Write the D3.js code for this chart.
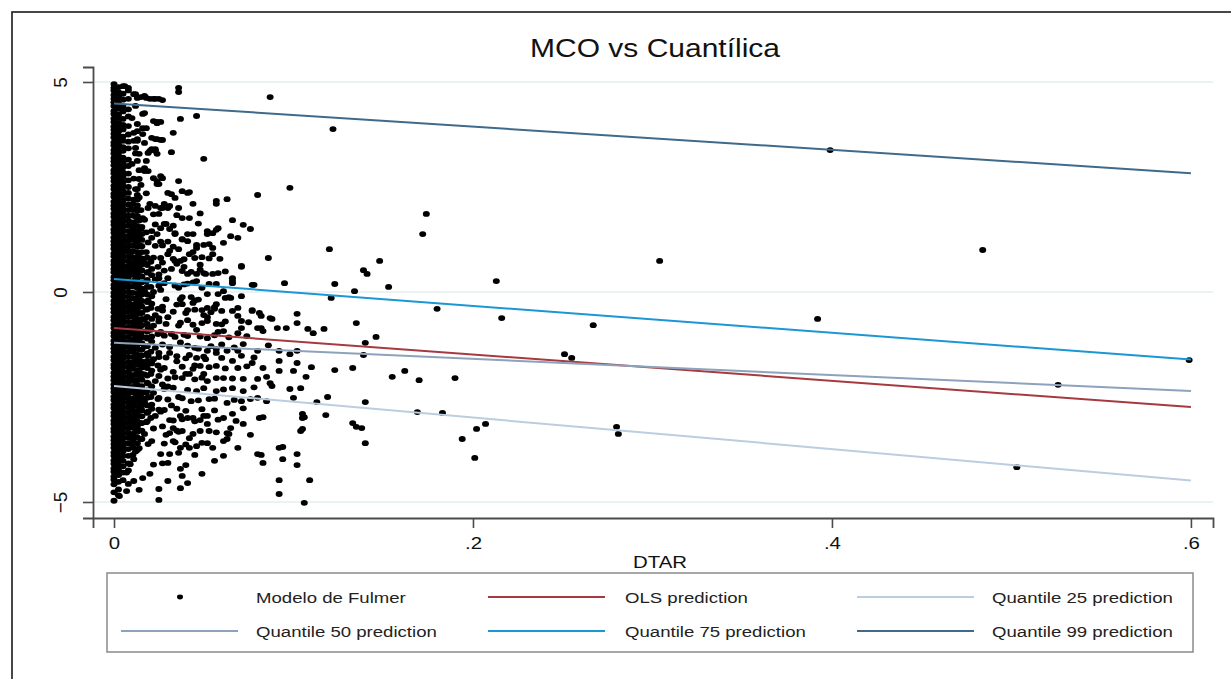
<!DOCTYPE html>
<html>
<head>
<meta charset="utf-8">
<script src="https://cdn.jsdelivr.net/npm/d3@7"></script>
<style>
  html, body { margin: 0; padding: 0; background: #fff; }
  svg { display: block; font-family: "Liberation Sans", Arial, sans-serif; }
</style>
</head>
<body>
<svg id="chart" width="1231" height="679"></svg>
<script>
// ---- values ----
const title = 'MCO vs Cuantílica'
const xLabel = 'DTAR'
const xTicks = [0, 0.2, 0.4, 0.6]
const yTicks = [-5, 0, 5]

// dense core at DTAR ~ 0 : one list of y values per x column
const coreX = [0, 0.0025, 0.005, 0.008, 0.0105, 0.013, 0.0155, 0.0185]
const coreY0 = [4.95, 4.86, 4.8, 4.69, 4.6, 4.52, 4.43, 4.31, 4.24, 4.13, 4.05, 3.94, 3.86, 3.77, 3.68, 3.56, 3.49, 3.38, 3.3, 3.19, 3.11, 3.02, 2.9, 2.83, 2.72, 2.64, 2.53, 2.45, 2.34, 2.27, 2.15, 2.06, 1.98, 1.87, 1.79, 1.68, 1.6, 1.49, 1.41, 1.3, 1.21, 1.12, 1.03, 0.92, 0.85, 0.74, 0.65, 0.55, 0.47, 0.36, 0.28, 0.17, 0.09, -0.02, -0.1, -0.21, -0.3, -0.39, -0.48, -0.59, -0.67, -0.78, -0.86, -0.97, -1.05, -1.16, -1.25, -1.34, -1.43, -1.54, -1.62, -1.73, -1.81, -1.92, -2.01, -2.1, -2.2, -2.29, -2.38, -2.49, -2.57, -2.68, -2.76, -2.87, -2.95, -3.06, -3.14, -3.25, -3.33, -3.44, -3.53, -3.62, -3.71, -3.82, -3.9, -4.01, -4.09, -4.2, -4.28, -4.39, -4.47, -4.58, -4.77, -4.97]
const coreY1 = [4.88, 4.76, 4.65, 4.55, 4.44, 4.36, 4.22, 4.14, 4.02, 3.91, 3.82, 3.71, 3.62, 3.51, 3.43, 3.32, 3.24, 3.13, 3.05, 2.94, 2.86, 2.76, 2.67, 2.58, 2.48, 2.39, 2.3, 2.2, 2.11, 2.02, 1.93, 1.83, 1.74, 1.64, 1.55, 1.45, 1.36, 1.26, 1.17, 1.07, 0.98, 0.89, 0.79, 0.7, 0.6, 0.51, 0.42, 0.32, 0.23, 0.13, 0.04, -0.06, -0.15, -0.25, -0.34, -0.43, -0.53, -0.62, -0.72, -0.81, -0.91, -1.0, -1.1, -1.19, -1.29, -1.38, -1.48, -1.57, -1.66, -1.76, -1.85, -1.95, -2.04, -2.14, -2.23, -2.33, -2.42, -2.52, -2.61, -2.71, -2.8, -2.9, -2.99, -3.09, -3.18, -3.28, -3.37, -3.47, -3.56, -3.66, -3.75, -3.85, -3.94, -4.04, -4.13, -4.25, -4.36, -4.52, -4.7, -4.84]
const coreY2 = [4.9, 4.72, 4.58, 4.41, 4.3, 4.12, 3.98, 3.87, 3.7, 3.6, 3.45, 3.36, 3.2, 3.08, 2.97, 2.85, 2.74, 2.62, 2.52, 2.4, 2.31, 2.19, 2.09, 1.98, 1.88, 1.77, 1.67, 1.56, 1.46, 1.35, 1.25, 1.14, 1.04, 0.94, 0.83, 0.73, 0.62, 0.52, 0.41, 0.31, 0.2, 0.1, -0.01, -0.11, -0.22, -0.32, -0.43, -0.53, -0.64, -0.74, -0.85, -0.95, -1.06, -1.16, -1.27, -1.37, -1.48, -1.58, -1.69, -1.79, -1.9, -2.0, -2.11, -2.21, -2.32, -2.42, -2.53, -2.63, -2.74, -2.84, -2.95, -3.05, -3.16, -3.26, -3.37, -3.47, -3.58, -3.68, -3.79, -3.9, -4.02, -4.15, -4.3, -4.48]
const coreY3 = [4.8, 4.6, 4.35, 4.18, 3.95, 3.75, 3.58, 3.42, 3.15, 3.0, 2.82, 2.66, 2.5, 2.36, 2.22, 2.08, 1.95, 1.82, 1.7, 1.58, 1.45, 1.33, 1.21, 1.09, 0.97, 0.85, 0.73, 0.61, 0.49, 0.37, 0.25, 0.13, 0.01, -0.11, -0.23, -0.35, -0.47, -0.59, -0.71, -0.83, -0.95, -1.07, -1.19, -1.31, -1.43, -1.55, -1.67, -1.79, -1.91, -2.03, -2.15, -2.27, -2.39, -2.51, -2.63, -2.75, -2.87, -2.99, -3.11, -3.23, -3.35, -3.47, -3.6, -3.74, -3.9, -4.08, -4.25]
const coreY4 = [2.1, 1.95, 1.82, 1.66, 1.53, 1.38, 1.25, 1.1, 0.97, 0.82, 0.69, 0.54, 0.41, 0.26, 0.13, -0.02, -0.15, -0.3, -0.43, -0.58, -0.71, -0.86, -0.99, -1.14, -1.27, -1.42, -1.55, -1.7, -1.83, -1.98, -2.11, -2.26, -2.39, -2.54, -2.67, -2.82, -2.95, -3.1, -3.23, -3.38, -3.52, -3.7, -3.88]
const coreY5 = [2.45, 2.31, 2.2, 2.06, 1.94, 1.81, 1.7, 1.57, 1.44, 1.33, 1.2, 1.08, 0.95, 0.84, 0.71, 0.58, 0.47, 0.34, 0.22, 0.1, -0.03, -0.14, -0.27, -0.39, -0.51, -0.64, -0.75, -0.88, -1.0, -1.12, -1.25, -1.36, -1.49, -1.61, -1.73, -1.86, -1.97, -2.1, -2.22, -2.34, -2.47, -2.58, -2.71, -2.83, -2.95, -3.08, -3.2, -3.33, -3.46, -3.6, -3.76]
const coreY6 = [1.55, 1.38, 1.24, 1.09, 0.95, 0.8, 0.66, 0.52, 0.37, 0.23, 0.08, -0.06, -0.21, -0.35, -0.5, -0.64, -0.79, -0.93, -1.08, -1.22, -1.37, -1.51, -1.66, -1.8, -1.95, -2.09, -2.24, -2.38, -2.53, -2.67, -2.82, -2.96, -3.12, -3.3, -3.5]
const coreY7 = [0.82, 0.64, 0.46, 0.29, 0.12, -0.06, -0.24, -0.41, -0.59, -0.76, -0.94, -1.11, -1.29, -1.46, -1.64, -1.81, -1.99, -2.16, -2.34, -2.52, -2.7, -2.88, -3.08]

// thinning band next to the core, [DTAR, y]
const bandPts = [
  [0.011,3.6],[0.012,3.3],[0.010,3.05],[0.011,2.7],[0.012,2.45],[0.011,2.2],[0.010,1.98],[0.012,1.8],[0.011,1.62],[0.010,1.45],[0.012,1.3],[0.011,1.12],[0.010,0.95],[0.012,0.8],[0.011,0.62],[0.010,0.47],[0.012,0.3],[0.011,0.14],[0.010,-0.02],[0.012,-0.17],[0.011,-0.32],[0.010,-0.47],[0.012,-0.62],[0.011,-0.77],[0.010,-0.92],[0.012,-1.07],[0.011,-1.22],[0.010,-1.37],[0.012,-1.52],[0.011,-1.67],[0.010,-1.82],[0.012,-1.97],[0.011,-2.12],[0.010,-2.27],[0.012,-2.42],[0.011,-2.57],[0.010,-2.72],[0.012,-2.87],[0.011,-3.02],[0.010,-3.17],[0.012,-3.32],[0.011,-3.47],[0.010,-3.62],[0.012,-3.8],[0.011,-3.98],
  [0.014,2.9],[0.015,2.55],[0.014,2.25],[0.015,1.95],[0.014,1.7],[0.015,1.5],[0.014,1.3],[0.015,1.1],[0.014,0.92],[0.015,0.74],[0.014,0.55],[0.015,0.38],[0.014,0.2],[0.015,0.03],[0.014,-0.15],[0.015,-0.32],[0.014,-0.5],[0.015,-0.67],[0.014,-0.85],[0.015,-1.02],[0.014,-1.2],[0.015,-1.37],[0.014,-1.55],[0.015,-1.72],[0.014,-1.9],[0.015,-2.07],[0.014,-2.25],[0.015,-2.42],[0.014,-2.6],[0.015,-2.77],[0.014,-2.95],[0.015,-3.12],[0.014,-3.3],[0.015,-3.5],[0.014,-3.72],
  [0.018,2.35],[0.019,2.0],[0.017,1.72],[0.018,1.42],[0.019,1.18],[0.018,0.95],[0.017,0.7],[0.019,0.48],[0.018,0.25],[0.017,0.02],[0.019,-0.2],[0.018,-0.42],[0.017,-0.65],[0.019,-0.86],[0.018,-1.08],[0.017,-1.3],[0.019,-1.52],[0.018,-1.74],[0.017,-1.96],[0.019,-2.18],[0.018,-2.4],[0.017,-2.62],[0.019,-2.85],[0.018,-3.1],[0.017,-3.38],[0.019,-3.62],
  [0.0205,0.72],[0.021,0.4],[0.0205,0.12],[0.021,-0.1],[0.0205,-0.38],[0.021,-0.64],[0.0205,-0.9],[0.021,-1.18],[0.0205,-1.42],[0.021,-1.7],[0.0205,-1.95],[0.021,-2.25],[0.0205,-2.5],[0.021,-2.78],[0.0205,-3.0],
  [0.022,1.85],[0.021,1.45],[0.023,1.1],[0.022,0.82],[0.021,0.55],[0.023,0.3],[0.022,0.0],[0.021,-0.28],[0.023,-0.55],[0.022,-0.8],[0.021,-1.06],[0.023,-1.33],[0.022,-1.6],[0.021,-1.87],[0.023,-2.12],[0.022,-2.4],[0.021,-2.68],[0.023,-2.95],[0.022,-3.25],[0.021,-3.55],
  [0.0245,0.6],[0.025,0.15],[0.0245,-0.4],[0.025,-0.7],[0.0245,-1.0],[0.025,-1.45],[0.0245,-1.75],[0.025,-2.0],[0.0245,-2.55],[0.025,-2.8],
  [0.026,1.2],[0.027,0.7],[0.025,0.42],[0.026,0.05],[0.027,-0.35],[0.025,-0.62],[0.026,-0.95],[0.027,-1.25],[0.025,-1.55],[0.026,-1.85],[0.027,-2.2],[0.025,-2.52],[0.026,-2.85],[0.027,-3.2],
  [0.030,-0.6],[0.032,-1.0],[0.031,-1.45],[0.033,-1.9],[0.030,-2.25],[0.032,-2.7],[0.031,-3.05],[0.029,-3.4],
  [0.035,-0.3],[0.036,-0.8],[0.037,-1.2],[0.035,-1.65],[0.038,-2.05],[0.036,-2.5],[0.037,-2.95],[0.035,-3.3],
  [0.040,-0.5],[0.041,-1.05],[0.042,-1.5],[0.040,-1.95],[0.043,-2.6],[0.041,-3.0],
  [0.045,-0.2],[0.046,-0.9],[0.047,-1.35],[0.045,-1.75],[0.048,-3.05],
  [0.050,-0.55],[0.052,-1.1],[0.051,-1.6],[0.053,-2.55],[0.050,-2.95],
  [0.056,-0.4],[0.058,-0.95],[0.057,-1.45],[0.060,-1.25],[0.062,-0.7],
  [0.030,1.2],[0.032,0.55],[0.034,0.15],[0.038,1.25],[0.039,0.6],[0.041,0.2],[0.044,0.95],[0.048,0.65],[0.049,0.1],[0.053,0.8],
  [0.029,-0.17],[0.043,-0.12],[0.047,-0.18],[0.062,-0.14],
  [0.027,-0.44],[0.033,-0.47],[0.045,-0.42],[0.054,-0.48],[0.066,-0.45],
  [0.029,-0.76],[0.037,-0.73],[0.044,-0.78],[0.049,-0.74],[0.060,-0.77],[0.075,-0.72],
  [0.028,-1.04],[0.034,-1.07],[0.039,-1.02],[0.048,-1.06],[0.056,-1.03],[0.064,-1.08],[0.074,-1.05],
  [0.031,-1.31],[0.041,-1.28],[0.045,-1.33],[0.054,-1.29],[0.067,-1.32],[0.086,-1.27],
  [0.029,-1.56],[0.035,-1.53],[0.040,-1.58],[0.050,-1.54],[0.060,-1.57],[0.071,-1.52],[0.078,-1.56],
  [0.028,-1.81],[0.038,-1.78],[0.044,-1.83],[0.053,-1.79],[0.062,-1.82],[0.074,-1.77],
  [0.030,-2.06],[0.034,-2.03],[0.045,-2.08],[0.049,-2.04],[0.066,-2.06],[0.085,-2.02],
  [0.028,-2.31],[0.033,-2.28],[0.041,-2.33],[0.050,-2.29],[0.061,-2.32],[0.078,-2.27],
  [0.030,-2.56],[0.038,-2.53],[0.047,-2.58],[0.056,-2.54],[0.067,-2.57],
  [0.028,-2.81],[0.035,-2.78],[0.040,-2.83],[0.049,-2.79],[0.056,-2.82],[0.072,-2.77],
  [0.033,-3.06],[0.038,-3.03],[0.045,-3.08],[0.058,-3.04],[0.068,-3.07],
  [0.031,-3.36],[0.036,-3.33],[0.044,-3.38],[0.057,-3.34],
  [0.028,-3.61],[0.034,-3.58],[0.040,-3.63],[0.049,-3.59],
  [0.026,-3.86],[0.036,-3.83],[0.045,-3.88],
  [0.022,-4.11],[0.027,-4.08],[0.040,-4.12],
  [0.028,0.21],[0.039,0.18],[0.044,0.23],[0.057,0.19],
  [0.028,0.51],[0.043,0.48],[0.048,0.53],[0.062,0.49],
  [0.026,0.81],[0.039,0.78],[0.049,0.83],[0.059,0.79],
  [0.027,1.11],[0.033,1.08],[0.050,1.12],
  [0.023,1.61],[0.033,1.58],[0.047,1.63],
  [0.025,1.86],[0.035,1.83],[0.048,1.87]
]

// scattered observations, [DTAR, y]
const scatterPts = [
  [0.087,4.64],[0.036,4.86],[0.036,4.76],[0.098,2.48],[0.050,3.17],[0.046,4.19],[0.037,4.12],[0.033,3.79],[0.032,3.33],[0.080,2.31],[0.063,2.21],[0.057,2.17],[0.057,2.10],[0.036,2.64],[0.030,2.36],[0.042,2.38],[0.044,2.10],[0.066,1.71],[0.072,1.60],[0.076,1.50],[0.086,0.81],[0.095,0.21],[0.077,0.17],[0.071,0.60],[0.066,0.26],[0.052,1.38],[0.057,1.48],[0.041,1.38],[0.029,1.62],[0.061,1.17],[0.055,1.05],[0.046,1.12],[0.036,1.02],[0.035,0.67],[0.042,0.90],[0.051,0.43],[0.058,0.45],[0.046,0.26],[0.024,1.38],[0.021,1.29],[0.026,1.52],[0.027,2.0],[0.020,2.10],[0.016,1.76],[0.025,4.6],[0.022,4.6],[0.018,4.62],[0.015,4.64],[0.011,4.71],[0.024,4.05],[0.026,4.05],[0.021,3.67],[0.024,3.64],[0.027,3.62],[0.020,3.36],[0.023,3.40],[0.016,3.9],[0.013,3.6],[0.013,3.83],[0.017,2.88],[0.014,2.69],[0.018,3.12],[0.026,2.76],[0.024,2.57],[0.030,2.0],[0.036,2.0],[0.038,1.76],[0.042,1.76],[0.031,1.5],[0.034,1.4],[0.030,0.9],[0.033,0.79],[0.037,0.74],[0.041,0.43],[0.046,0.43],[0.025,0.33],[0.030,0.33],[0.036,0.1],
  [0.038,2.4],[0.041,2.36],[0.032,2.33],[0.034,2.24],[0.023,2.05],[0.026,2.0],[0.028,2.1],[0.031,2.05],[0.027,2.71],[0.024,2.64],[0.022,2.71],[0.025,2.57],[0.017,2.95],[0.019,2.88],[0.023,3.36],[0.021,3.4],[0.019,3.31],[0.024,3.29],[0.023,3.64],[0.026,3.62],[0.017,3.55],[0.022,4.07],[0.024,4.02],[0.017,4.26],[0.016,4.24],[0.017,4.67],[0.020,4.6],[0.023,4.6],[0.027,4.57],[0.012,4.71],[0.013,4.62],[0.006,4.9],[0.008,4.86],[0.012,4.43],[0.010,4.14],[0.013,4.0],[0.011,3.79],[0.013,3.64],[0.012,3.43],[0.014,3.29],[0.013,3.12],[0.018,3.9],[0.016,3.76],
  [0.071,0.62],[0.078,0.17],[0.066,0.33],[0.066,0.21],[0.058,1.52],[0.055,1.40],[0.065,1.33],[0.069,1.29],[0.053,1.14],[0.055,0.9],[0.052,1.45],[0.044,1.38],[0.041,1.21],[0.046,1.05],[0.045,0.81],[0.050,0.45],[0.055,0.43],[0.053,0.19],[0.061,0.02],[0.065,-0.14],[0.069,-0.38],[0.077,-0.43],[0.081,-0.50],[0.087,-0.62],[0.082,-0.86],[0.071,-0.86],[0.049,-0.43],[0.052,-0.60],[0.056,-0.36],[0.038,-0.12],[0.041,-0.43],[0.041,-0.67],[0.034,0.74],[0.038,0.5],[0.031,0.98],[0.028,1.62],[0.034,1.38],[0.038,1.26],
  [0.083,-0.93],[0.080,-0.86],[0.091,-0.86],[0.096,-0.86],[0.088,-0.64],[0.082,-0.57],[0.071,-0.69],[0.069,-0.57],[0.102,-0.74],[0.102,-0.52],[0.077,-0.45],[0.060,-0.45],[0.057,-0.29],[0.052,-0.38],[0.044,-0.26],[0.038,-0.29],[0.037,-0.17],[0.071,-0.10],[0.064,-0.12],[0.058,-0.05],[0.052,-0.05],[0.069,-0.98],[0.061,-0.93],[0.057,-0.76],[0.052,-0.69],[0.092,-1.40],[0.098,-1.48],[0.102,-1.40],[0.069,-1.40],[0.080,-1.40],[0.072,-1.24],[0.066,-1.64],[0.057,-1.76],[0.048,-1.76],[0.057,-2.05],[0.050,-1.95],[0.042,-1.95],[0.063,-1.40],[0.057,-1.36],[0.052,-1.40],[0.046,-1.57],[0.083,-1.81],[0.077,-1.69],[0.069,-1.81],[0.080,-2.07],[0.072,-2.07],[0.061,-2.05],[0.052,-2.12],[0.087,-2.17],[0.088,-2.24],[0.072,-2.36],[0.066,-2.29],[0.057,-2.36],[0.046,-2.36],[0.080,-2.52],[0.085,-2.60],[0.071,-2.60],[0.063,-2.64],[0.076,-2.55],[0.066,-2.90],[0.061,-3.00],[0.052,-2.95],[0.044,-3.00],[0.048,-3.31],[0.042,-3.48],[0.033,-3.24],[0.038,-3.31],[0.061,-3.55],[0.063,-3.36],[0.053,-3.31],[0.052,-3.14],[0.037,-3.71],[0.033,-3.55],[0.052,-3.60],[0.055,-3.71],[0.042,-3.71],[0.046,-3.67],[0.030,-4.07],[0.031,-3.86],[0.092,-3.71],[0.080,-3.86],[0.083,-2.98],[0.105,-2.90],[0.100,-2.52],[0.104,-2.29],[0.098,-2.31],[0.092,-1.88],[0.092,-1.64],[0.102,-1.69],[0.100,-1.88],
  [0.092,-4.81],[0.092,-4.48],[0.102,-4.12],[0.102,-3.86],[0.094,-3.98],[0.094,-3.69],[0.083,-4.07],[0.082,-3.88],[0.105,-3.26],[0.105,-3.0],[0.081,-3.0],[0.076,-3.40],[0.072,-3.14],[0.065,-3.24],[0.064,-3.38],[0.063,-3.5],[0.069,-3.71],[0.061,-3.9],[0.056,-4.02],[0.049,-4.33],[0.037,-4.21],[0.038,-4.38],[0.041,-4.55],[0.037,-4.67],[0.030,-4.5],[0.025,-4.69],[0.025,-4.95],[0.014,-4.71],[0.007,-4.74],[0.020,-4.33],[0.016,-4.43],[0.011,-4.5],[0.008,-4.57],[0.009,-4.1],[0.007,-4.3],[0.003,-4.86],
  [0.122,3.88],[0.174,1.86],[0.172,1.38],[0.120,1.02],[0.148,0.74],[0.304,0.74],[0.139,0.52],[0.141,0.43],[0.123,0.19],[0.213,0.26],[0.153,0.12],[0.134,0.02],[0.121,-0.14],[0.180,-0.40],[0.216,-0.62],[0.267,-0.79],[0.108,-0.88],[0.111,-0.98],[0.117,-0.88],[0.135,-0.74],[0.146,-1.07],[0.140,-1.21],[0.139,-1.50],[0.251,-1.48],[0.255,-1.57],[0.110,-1.79],[0.107,-2.02],[0.123,-1.86],[0.133,-1.81],[0.155,-2.02],[0.162,-1.88],[0.170,-2.10],[0.190,-2.05],[0.113,-2.62],[0.119,-2.50],[0.140,-2.62],[0.106,-2.98],[0.118,-2.93],[0.104,-3.31],[0.133,-3.12],[0.135,-3.21],[0.138,-3.24],[0.140,-3.60],[0.169,-2.86],[0.183,-2.88],[0.207,-3.14],[0.202,-3.26],[0.194,-3.50],[0.201,-3.95],[0.280,-3.21],[0.281,-3.38],[0.109,-4.48],[0.106,-5.02],
  [0.399,3.38],[0.484,1.00],[0.392,-0.64],[0.599,-1.62],[0.526,-2.21],[0.503,-4.17]
]

// fitted lines: prediction at DTAR = 0 and at DTAR = .6
const fitNames = ['OLS prediction', 'Quantile 25 prediction', 'Quantile 50 prediction', 'Quantile 75 prediction', 'Quantile 99 prediction']
const fitStart = [-0.86, -2.24, -1.21, 0.31, 4.49]
const fitEnd = [-2.74, -4.49, -2.36, -1.61, 2.83]
const fitDomain = [0, 0.6]
const scatterName = 'Modelo de Fulmer'

// ---- styles ----
const fitColors = ['#a53a40', '#bccde0', '#8da2bc', '#1b97d4', '#3f6a8b']
const stretch = 1.2   // the source image is stretched sideways

const svg = d3.select('#chart')
const W = 1231
const H = 679

const x = d3.scaleLinear().domain([-0.0117, 0.6123]).range([93, 1213])
const y = d3.scaleLinear().domain([-5.381, 5.357]).range([518, 67])

// outer frame (only top and left edges visible)
svg.append('rect')
  .attr('x', 12).attr('y', 12)
  .attr('width', W).attr('height', H)
  .attr('fill', 'none')
  .attr('stroke', '#1a1a1a')
  .attr('stroke-width', 1.6)

function stretchedText (g, tx, ty, str, size, anchor) {
  return g.append('text')
    .attr('transform', `translate(${tx},${ty}) scale(${stretch},1)`)
    .attr('text-anchor', anchor || 'start')
    .attr('font-size', size)
    .attr('fill', '#111')
    .text(str)
}

// title
stretchedText(svg, 655, 57, title, 25, 'middle')

// grid
svg.append('g')
  .selectAll('line')
  .data(yTicks)
  .enter()
  .append('line')
    .attr('x1', x.range()[0])
    .attr('x2', x.range()[1])
    .attr('y1', d => y(d))
    .attr('y2', d => y(d))
    .attr('stroke', '#e4eef1')
    .attr('stroke-width', 1.6)

// points (markers are a bit wider than tall, like the stretched source)
const points = []
const coreY = [coreY0, coreY1, coreY2, coreY3, coreY4, coreY5, coreY6, coreY7]
coreY.forEach((col, i) => col.forEach(v => points.push([coreX[i], v])))
bandPts.forEach(p => points.push(p))
scatterPts.forEach(p => points.push(p))

svg.append('g')
  .selectAll('ellipse')
  .data(points)
  .enter()
  .append('ellipse')
    .attr('cx', d => x(d[0]))
    .attr('cy', d => y(d[1]))
    .attr('rx', 3.5)
    .attr('ry', 2.9)
    .attr('fill', '#000')

// fitted lines
const fits = fitNames.map((name, i) => ({
  name,
  color: fitColors[i],
  values: [[fitDomain[0], fitStart[i]], [fitDomain[1], fitEnd[i]]]
}))
const line = d3.line()
  .x(d => x(d[0]))
  .y(d => y(d[1]))

svg.append('g')
  .selectAll('path')
  .data(fits)
  .enter()
  .append('path')
    .attr('d', d => line(d.values))
    .attr('fill', 'none')
    .attr('stroke', d => d.color)
    .attr('stroke-width', 2)

// axes
const axisColor = '#4a4a4a'
const yAxis = d3.axisLeft(y)
  .tickValues(yTicks)
  .tickSize(10)
  .tickPadding(0)
  .tickFormat(d3.format('d'))
const gy = svg.append('g')
  .attr('transform', 'translate(93,0)')
  .call(yAxis)
gy.selectAll('text')
  .attr('x', null).attr('dy', null)
  .attr('transform', 'translate(-26,0) rotate(-90)')
  .attr('text-anchor', 'middle')
  .attr('y', 0)
  .attr('font-size', 19)
  .attr('font-family', '"Liberation Sans", Arial, sans-serif')
  .attr('fill', '#111')

const xAxis = d3.axisBottom(x)
  .tickValues(xTicks)
  .tickSize(10)
  .tickPadding(9)
  .tickFormat(d => d === 0 ? '0' : d3.format('.1f')(d).replace(/^0/, ''))
const gx = svg.append('g')
  .attr('transform', 'translate(0,518)')
  .call(xAxis)
gx.selectAll('text')
  .attr('font-size', 17)
  .attr('font-family', '"Liberation Sans", Arial, sans-serif')
  .attr('fill', '#111')
  .attr('transform', `scale(${stretch},1)`)
  .attr('x', 0)

;[gx, gy].forEach(g => {
  g.select('.domain').attr('stroke', axisColor).attr('stroke-width', 1.8)
  g.selectAll('.tick line').attr('stroke', axisColor).attr('stroke-width', 1.6)
})

stretchedText(svg, 660, 568, xLabel, 17, 'middle')

// legend
const legend = svg.append('g')
legend.append('rect')
  .attr('x', 107).attr('y', 573)
  .attr('width', 1086).attr('height', 79)
  .attr('fill', '#fff')
  .attr('stroke', '#8a8a8a')
  .attr('stroke-width', 1.5)

const legendItems = [{ name: scatterName, type: 'dot' }]
  .concat(fits.map(f => ({ name: f.name, type: 'line', color: f.color })))
const keyX = [121, 488, 857]
const labelX = [256, 625, 992]
const rowY = [597, 631]

legendItems.forEach((item, i) => {
  const c = i % 3
  const r = Math.floor(i / 3)
  if (item.type === 'dot') {
    legend.append('ellipse')
      .attr('cx', keyX[c] + 59).attr('cy', rowY[r])
      .attr('rx', 3).attr('ry', 2.4).attr('fill', '#000')
  } else {
    legend.append('line')
      .attr('x1', keyX[c]).attr('x2', keyX[c] + 117)
      .attr('y1', rowY[r]).attr('y2', rowY[r])
      .attr('stroke', item.color)
      .attr('stroke-width', 2)
  }
  stretchedText(legend, labelX[c], rowY[r] + 5.5, item.name, 15.5, 'start')
    .attr('fill', '#222')
})
</script>
</body>
</html>
